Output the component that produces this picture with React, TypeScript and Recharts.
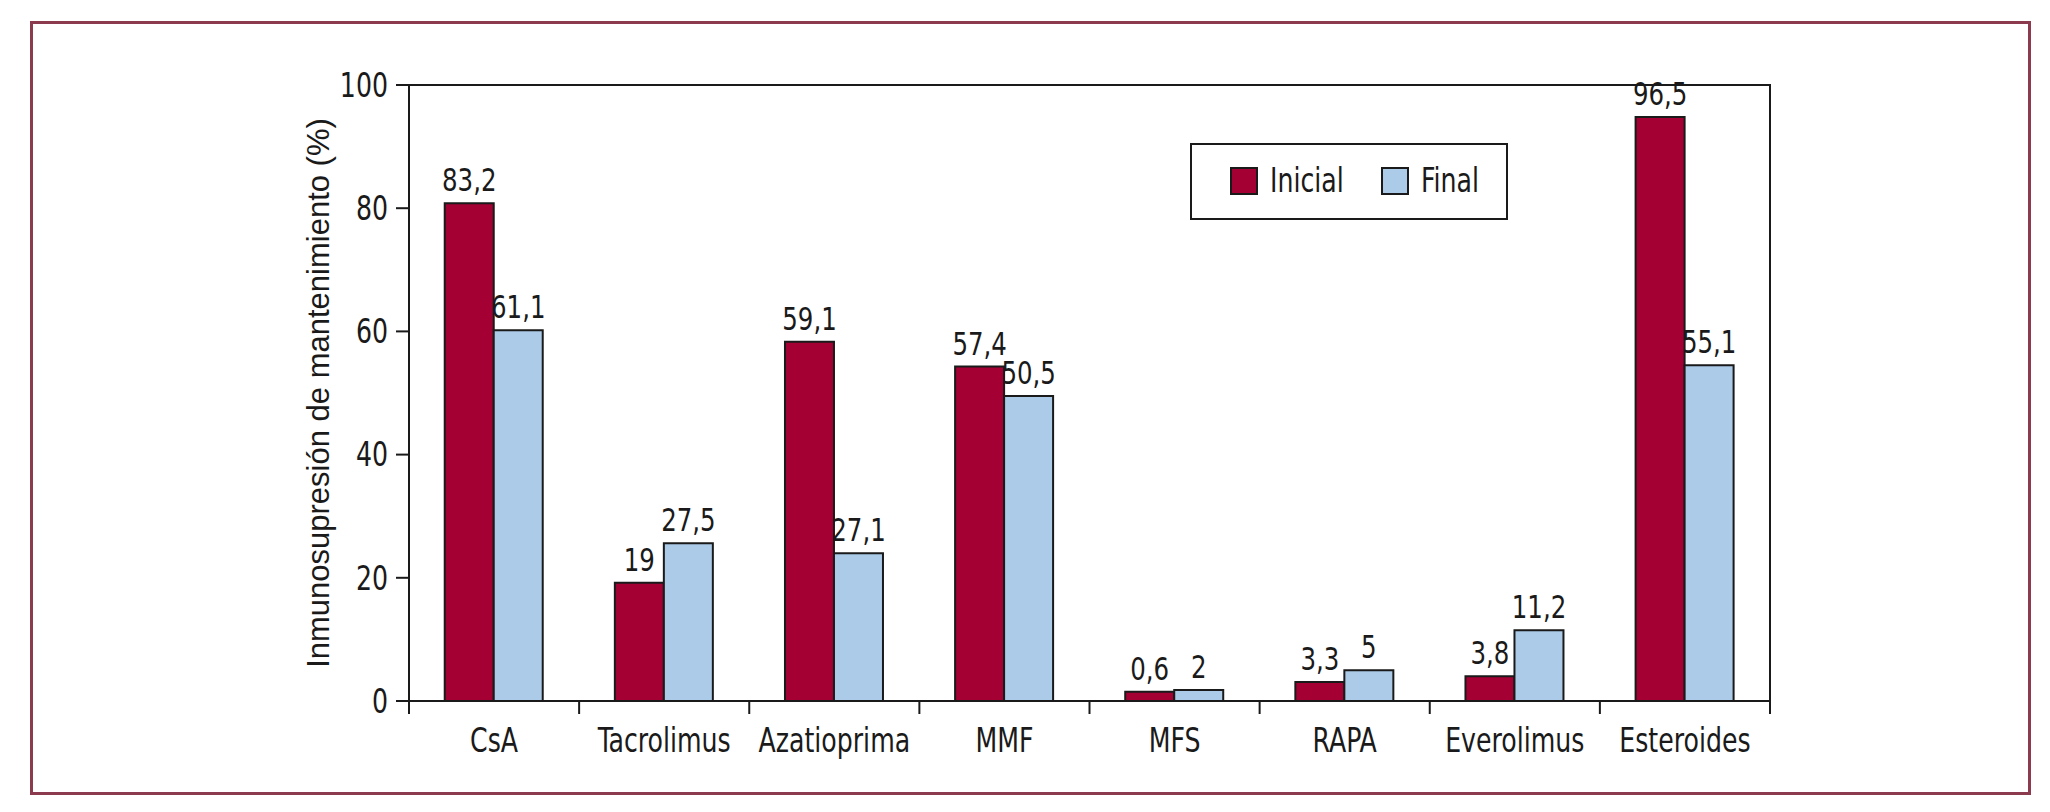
import React from "react";
import {
  BarChart,
  Bar,
  XAxis,
  YAxis,
  Legend,
  LabelList,
  ReferenceArea,
} from "recharts";

const categories = ["CsA", "Tacrolimus", "Azatioprima", "MMF", "MFS", "RAPA", "Everolimus", "Esteroides"];
// bar heights as drawn in the figure
const inicial = [80.8, 19.2, 58.3, 54.3, 1.5, 3.1, 4.0, 94.8];
const final = [60.2, 25.6, 24.0, 49.5, 1.8, 5.0, 11.5, 54.5];
// printed value labels
const inicialLabels = ["83,2", "19", "59,1", "57,4", "0,6", "3,3", "3,8", "96,5"];
const finalLabels = ["61,1", "27,5", "27,1", "50,5", "2", "5", "11,2", "55,1"];
const yTicks = [0, 20, 40, 60, 80, 100];
const seriesOrder = ["Inicial", "Final"];

const data = categories.map((name, i) => ({
  name,
  inicial: inicial[i],
  final: final[i],
  inicialLabel: inicialLabels[i],
  finalLabel: finalLabels[i],
}));

const NARROW = "'Liberation Sans Narrow', 'Arial Narrow', 'DejaVu Sans Condensed', sans-serif";
const SQUEEZE = 0.85;
const INK = "#1a1a1a";
const RED = "#a50034";
const BLUE = "#abcbe9";

// condensed-looking text: horizontal squeeze around the anchor point
function NarrowText({ x, y, anchor, size, children, dy }: any) {
  return (
    <text
      transform={`translate(${x},${y}) scale(${SQUEEZE},1)`}
      textAnchor={anchor}
      dy={dy}
      fontFamily={NARROW}
      fontSize={size}
      fill={INK}
    >
      {children}
    </text>
  );
}

function CatTick(props: any) {
  const { x, y, payload, width, visibleTicksCount, index } = props;
  const half = payload.offset ?? width / visibleTicksCount / 2;
  const axisY = y - 27;
  return (
    <g>
      <line x1={x - half} x2={x - half} y1={axisY} y2={axisY + 13} stroke={INK} strokeWidth={2} />
      {index === visibleTicksCount - 1 && (
        <line x1={x + half} x2={x + half} y1={axisY} y2={axisY + 13} stroke={INK} strokeWidth={2} />
      )}
      <NarrowText x={x} y={y} anchor="middle" size={33} dy="0.72em">
        {payload.value}
      </NarrowText>
    </g>
  );
}

function ValueTick(props: any) {
  const { x, y, payload } = props;
  return (
    <NarrowText x={x} y={y} anchor="end" size={33} dy="0.36em">
      {payload.value}
    </NarrowText>
  );
}

function BarLabel(props: any) {
  const { x, y, width, value } = props;
  return (
    <NarrowText x={x + width / 2} y={y - 12} anchor="middle" size={32}>
      {value}
    </NarrowText>
  );
}

function LegendBox({ payload }: any) {
  const items = [...(payload || [])].sort(
    (a: any, b: any) => seriesOrder.indexOf(a.value) - seriesOrder.indexOf(b.value)
  );
  const swatchLeft = [38, 189];
  return (
    <div
      style={{
        position: "relative",
        boxSizing: "border-box",
        width: 318,
        height: 77,
        border: `2px solid ${INK}`,
        background: "#fff",
        fontFamily: NARROW,
        fontSize: 33,
        color: INK,
      }}
    >
      {items.map((p: any, i: number) => (
        <React.Fragment key={i}>
          <span
            style={{
              position: "absolute",
              left: swatchLeft[i],
              top: 22,
              boxSizing: "border-box",
              width: 28,
              height: 28,
              background: p.color,
              border: `2px solid ${INK}`,
            }}
          />
          <span
            style={{
              position: "absolute",
              left: swatchLeft[i] + 40,
              top: 16,
              lineHeight: "40px",
              transform: `scaleX(${SQUEEZE})`,
              transformOrigin: "left center",
              whiteSpace: "nowrap",
            }}
          >
            {p.value}
          </span>
        </React.Fragment>
      ))}
    </div>
  );
}

function YLabel(props: any) {
  const vb = props.viewBox;
  const x = vb.x + 29;
  const y = vb.y + vb.height / 2;
  return (
    <text
      x={x}
      y={y}
      transform={`rotate(-90, ${x}, ${y})`}
      textAnchor="middle"
      dominantBaseline="central"
      fontFamily="'Liberation Sans', Arial, sans-serif"
      fontSize={31}
      fill={INK}
    >
      Inmunosupresión de mantenimiento (%)
    </text>
  );
}

export default function App() {
  return (
    <div style={{ position: "relative", width: 2034, height: 796 }}>
      <div
        style={{
          position: "absolute",
          left: 22,
          top: 13,
          width: 2001,
          height: 774,
          boxSizing: "border-box",
          border: "3px solid #8c3b4f",
        }}
      />
      <BarChart
        width={2034}
        height={796}
        data={data}
        margin={{ top: 77, right: 272, bottom: 43, left: 281 }}
        barCategoryGap="21%"
        barGap={0}
        style={{ position: "absolute", left: 0, top: 0 }}
      >
        <XAxis
          dataKey="name"
          interval={0}
          tickLine={false}
          tickSize={0}
          tickMargin={27}
          height={60}
          axisLine={{ stroke: INK, strokeWidth: 2 }}
          tick={<CatTick />}
        />
        <YAxis
          domain={[0, 100]}
          ticks={yTicks}
          width={120}
          tickSize={13}
          tickMargin={8}
          axisLine={{ stroke: INK, strokeWidth: 2 }}
          tickLine={{ stroke: INK, strokeWidth: 2 }}
          tick={<ValueTick />}
          label={<YLabel />}
        />
        <ReferenceArea
          x1={categories[0]}
          x2={categories[categories.length - 1]}
          y1={0}
          y2={100}
          fill="none"
          stroke={INK}
          strokeWidth={2}
          ifOverflow="visible"
        />
        <Legend
          layout="horizontal"
          verticalAlign="middle"
          align="center"
          content={<LegendBox />}
          wrapperStyle={{ left: 1182, top: 135, width: 318, height: 77 }}
        />
        <Bar
          dataKey="inicial"
          name="Inicial"
          fill={RED}
          stroke={INK}
          strokeWidth={2}
          isAnimationActive={false}
        >
          <LabelList dataKey="inicialLabel" content={<BarLabel />} />
        </Bar>
        <Bar
          dataKey="final"
          name="Final"
          fill={BLUE}
          stroke={INK}
          strokeWidth={2}
          isAnimationActive={false}
        >
          <LabelList dataKey="finalLabel" content={<BarLabel />} />
        </Bar>
      </BarChart>
    </div>
  );
}
